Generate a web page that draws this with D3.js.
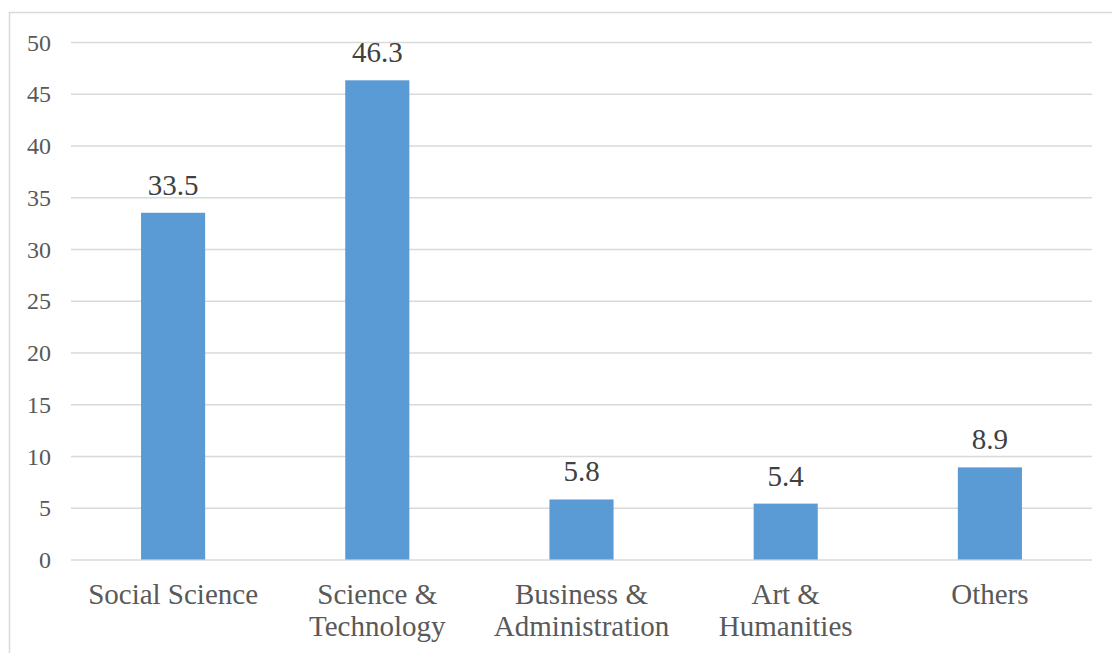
<!DOCTYPE html>
<html>
<head>
<meta charset="utf-8">
<script src="https://cdn.jsdelivr.net/npm/d3@7"></script>
<style>
  html, body { margin: 0; padding: 0; background: #fff; }
  svg { display: block; }
  svg text { font-family: "Liberation Serif", "Times New Roman", Times, serif; }
</style>
</head>
<body>
<svg id="chart" width="1112" height="653"></svg>
<script>
// Share of respondents by field of study (%)
const categories = [
  ["Social Science"],
  ["Science &", "Technology"],
  ["Business &", "Administration"],
  ["Art &", "Humanities"],
  ["Others"]
];
const values = [33.5, 46.3, 5.8, 5.4, 8.9];
const yTicks = [0, 5, 10, 15, 20, 25, 30, 35, 40, 45, 50];

const svg = d3.select("#chart");
const W = 1112, H = 653;
const plot = { left: 71, right: 1092, top: 42, bottom: 559.5 };

// Outer chart frame
svg.append("rect")
  .attr("x", 9.5).attr("y", 12.5)
  .attr("width", W + 20).attr("height", H + 20)
  .attr("fill", "none")
  .attr("stroke", "#d9d9d9")
  .attr("stroke-width", 1.5);

const x = d3.scaleBand()
  .domain(d3.range(categories.length))
  .range([plot.left, plot.right])
  .paddingInner(0.686)
  .paddingOuter(0.343);

const y = d3.scaleLinear()
  .domain([0, 50])
  .range([plot.bottom, plot.top]);

// Horizontal gridlines with tick labels
const yAxis = d3.axisLeft(y)
  .tickValues(yTicks)
  .tickSize(-(plot.right - plot.left))
  .tickPadding(20)
  .tickFormat(d3.format("d"));

const gy = svg.append("g")
  .attr("transform", `translate(${plot.left},0)`)
  .call(yAxis)
  .attr("font-family", null);
gy.select(".domain").remove();
gy.selectAll(".tick line")
  .attr("stroke", "#d9d9d9")
  .attr("stroke-width", 1.6);
gy.selectAll(".tick text")
  .attr("fill", "#595959")
  .attr("font-size", 24)
  .attr("dy", "0.34em");

// Bars
svg.append("g")
  .selectAll("rect")
  .data(values)
  .join("rect")
  .attr("x", (d, i) => x(i))
  .attr("width", x.bandwidth())
  .attr("y", d => y(d))
  .attr("height", d => y(0) - y(d))
  .attr("fill", "#5b9bd5");

// Value labels
svg.append("g")
  .selectAll("text")
  .data(values)
  .join("text")
  .attr("x", (d, i) => x(i) + x.bandwidth() / 2)
  .attr("y", d => y(d) - 18)
  .attr("text-anchor", "middle")
  .attr("fill", "#404040")
  .attr("font-size", 29)
  .text(d => d.toFixed(1));

// Category labels (wrapped onto two lines where needed)
const gx = svg.append("g");
categories.forEach((lines, i) => {
  const cx = x(i) + x.bandwidth() / 2;
  const t = gx.append("text")
    .attr("x", cx)
    .attr("y", 604)
    .attr("text-anchor", "middle")
    .attr("fill", "#595959")
    .attr("font-size", 29);
  lines.forEach((ln, j) => {
    t.append("tspan")
      .attr("x", cx)
      .attr("dy", j === 0 ? 0 : 32)
      .text(ln);
  });
});
</script>
</body>
</html>
